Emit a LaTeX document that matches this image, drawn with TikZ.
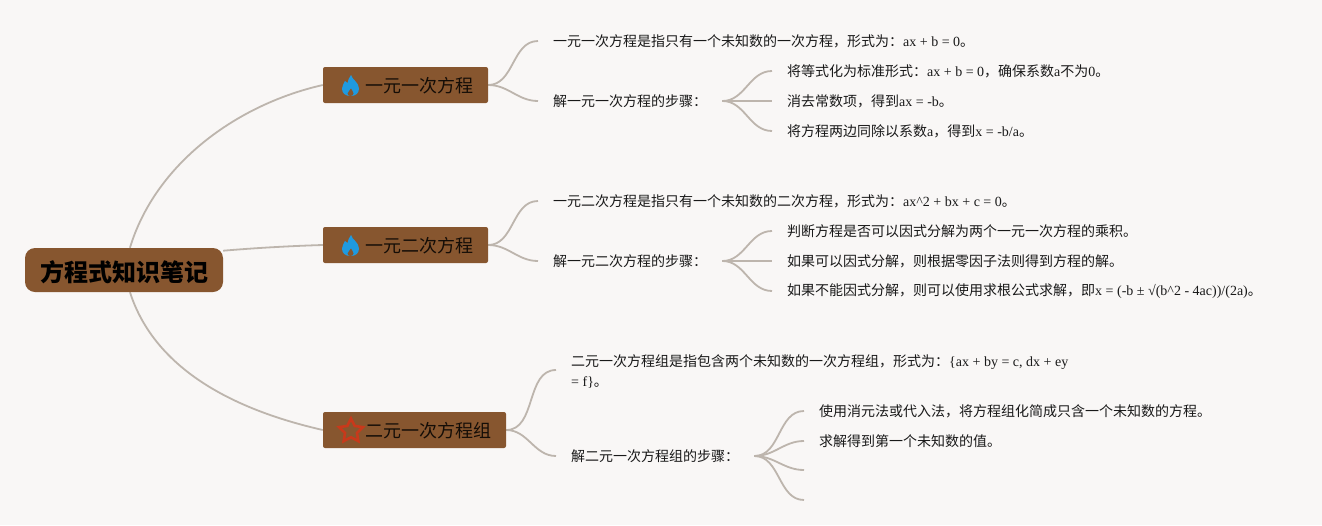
\documentclass[tikz,border=0pt]{standalone}
\usepackage{fontspec}
\setmainfont{Liberation Serif}
\newfontfamily\cjk{Noto Sans CJK SC}
\usepackage{tikz}
\usetikzlibrary{backgrounds,shapes.geometric}
\definecolor{paper}{HTML}{F9F7F6}
\definecolor{bark}{HTML}{87562F}
\definecolor{twig}{HTML}{BDB5AD}
\definecolor{flameblue}{HTML}{1F9AE0}
\definecolor{starred}{HTML}{C8391B}
\newcommand{\topictext}[1]{\hspace*{27pt}\raisebox{-1pt}[\height][\depth]{\cjk #1}}
\tikzset{
	branch/.style={draw=twig,line width=1.8pt,out=0,in=180},
	trunk/.style={draw=twig,line width=1.8pt},
	rootbox/.style={fill=bark,rounded corners=10pt,inner xsep=15pt,minimum height=44pt,font=\fontsize{24}{28}\selectfont\cjk\bfseries},
	topicbox/.style={fill=bark,rounded corners=2pt,inner xsep=15pt,minimum height=36pt,text=black!85!bark,font=\fontsize{18}{22}\selectfont},
	leaf/.style={anchor=west,inner xsep=15pt,inner ysep=0pt,align=left,text=black!90,font=\fontsize{14}{20}\selectfont},
	flame/.pic={
		\fill[flameblue] (0.5,-10.5) .. controls (1.5,-6) and (8.5,-3) .. (8.5,3) .. controls (8.5,8) and (5,10.5) .. (0,10.5)
			.. controls (-5,10.5) and (-8.5,8) .. (-8.5,3) .. controls (-8.5,0) and (-6.5,-2) .. (-5.5,-4.5)
			.. controls (-4.5,-3.5) and (-4,-3) .. (-3,-2.5) .. controls (-2.5,-5) and (-1.5,-8) .. (0.5,-10.5) -- cycle;
		\fill[bark] (0.5,3) .. controls (1,5) and (3.2,6) .. (3,8) .. controls (2.8,9.5) and (1.5,10.5) .. (0,10.5)
			.. controls (-1.5,10.5) and (-3,9.5) .. (-3,8) .. controls (-3,6) and (0,5) .. (0.5,3) -- cycle;
	}
}
\begin{document}
\begin{tikzpicture}[x=1pt,y=-1pt]
	\useasboundingbox (0,0) rectangle (1322,525);
	\node[rootbox] (root) at (124,270) {\raisebox{-2pt}[\height][\depth]{方程式知识笔记}};
	\node[topicbox] (topicA) at (405.5,85) {\topictext{一元一次方程}};
	\node[topicbox] (topicB) at (405.5,245) {\topictext{一元二次方程}};
	\node[topicbox] (topicC) at (414.5,430) {\topictext{二元一次方程组}};
	\pic at (350.5,85.5) {flame};
	\pic at (350.5,245.5) {flame};
	\node[star,star points=5,star point ratio=2,draw=starred,line width=2.6pt,minimum size=25pt,inner sep=0pt] (staricon) at (351,431) {};

	\node[leaf] (defA) at (538,41) {{\cjk 一元一次方程是指只有一个未知数的一次方程，形式为：}ax + b = 0{\cjk 。}};
	\node[leaf] (stepsA) at (538,101) {\cjk 解一元一次方程的步骤：};
	\node[leaf] (stepsAa) at (772,71) {{\cjk 将等式化为标准形式：}ax + b = 0{\cjk ，确保系数}a{\cjk 不为}0{\cjk 。}};
	\node[leaf] (stepsAb) at (772,101) {{\cjk 消去常数项，得到}ax = -b{\cjk 。}};
	\node[leaf] (stepsAc) at (772,131) {{\cjk 将方程两边同除以系数}a{\cjk ，得到}x = -b/a{\cjk 。}};

	\node[leaf] (defB) at (538,201) {{\cjk 一元二次方程是指只有一个未知数的二次方程，形式为：}ax\^{}2 + bx + c = 0{\cjk 。}};
	\node[leaf] (stepsB) at (538,261) {\cjk 解一元二次方程的步骤：};
	\node[leaf] (stepsBa) at (772,231) {\cjk 判断方程是否可以因式分解为两个一元一次方程的乘积。};
	\node[leaf] (stepsBb) at (772,261) {\cjk 如果可以因式分解，则根据零因子法则得到方程的解。};
	\node[leaf] (stepsBc) at (772,291) {{\cjk 如果不能因式分解，则可以使用求根公式求解，即}x = (-b ± √(b\^{}2 - 4ac))/(2a){\cjk 。}};

	\node[leaf] (defC) at (556,372) {{\cjk 二元一次方程组是指包含两个未知数的一次方程组，形式为：}\{ax + by = c, dx + ey\\= f\}{\cjk 。}};
	\node[leaf] (stepsC) at (556,456) {\cjk 解二元一次方程组的步骤：};
	\node[leaf] (stepsCa) at (804,411) {\cjk 使用消元法或代入法，将方程组化简成只含一个未知数的方程。};
	\node[leaf] (stepsCb) at (804,441) {\cjk 求解得到第一个未知数的值。};
	\coordinate (stepsCc) at (804,470);
	\coordinate (stepsCd) at (804,500);

	\begin{scope}[on background layer]
		\fill[paper] (0,0) rectangle (1322,525);
		\draw[trunk] (root.75) .. controls (155,165) and (235,105) .. (topicA.west);
		\draw[trunk] (root.11) .. controls (255,248) and (290,246) .. (topicB.west);
		\draw[trunk] (root.-75) .. controls (155,370) and (235,410) .. (topicC.west);
		\path[branch]
		(topicA.east) edge (defA.west)
		(topicA.east) edge (stepsA.west)
		(stepsA.east) edge (stepsAa.west)
		(stepsA.east) edge (stepsAb.west)
		(stepsA.east) edge (stepsAc.west)
		(topicB.east) edge (defB.west)
		(topicB.east) edge (stepsB.west)
		(stepsB.east) edge (stepsBa.west)
		(stepsB.east) edge (stepsBb.west)
		(stepsB.east) edge (stepsBc.west)
		(topicC.east) edge ([yshift=2pt]defC.west)
		(topicC.east) edge (stepsC.west)
		(stepsC.east) edge (stepsCa.west)
		(stepsC.east) edge (stepsCb.west)
		(stepsC.east) edge (stepsCc)
		(stepsC.east) edge (stepsCd)
		;
	\end{scope}
\end{tikzpicture}
\end{document}
